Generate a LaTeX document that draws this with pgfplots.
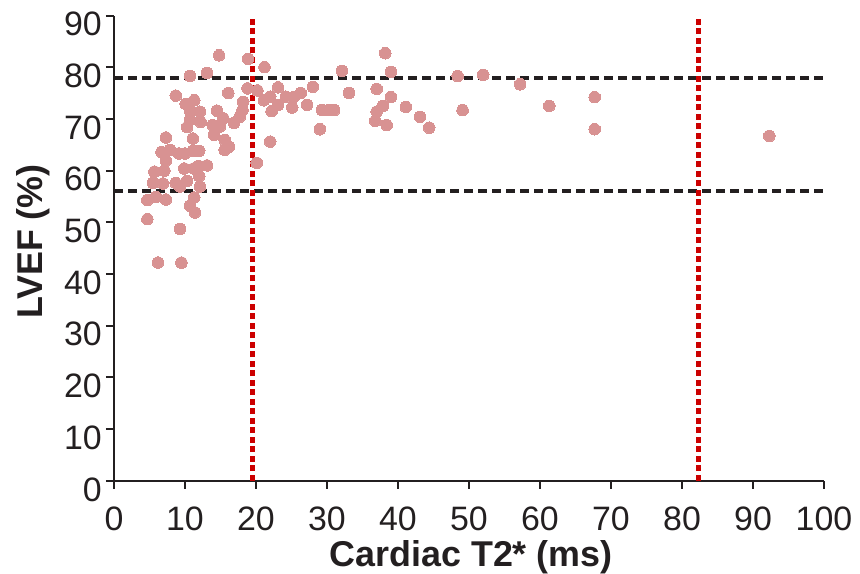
\documentclass[border=0pt]{standalone}
\usepackage{fontspec}
\setmainfont{Liberation Sans}
\usepackage{pgfplots}
\pgfplotsset{compat=1.18}
\definecolor{dotc}{RGB}{216,146,146}
\definecolor{redl}{RGB}{204,0,0}
\definecolor{txt}{RGB}{35,31,32}
\pgfplotstableread{
x y
14.8 82.3
18.9 81.6
21.2 80.0
13.1 78.9
10.7 78.3
8.7 74.5
16.1 75.0
18.8 75.9
20.2 75.5
10.1 72.9
11.3 73.6
18.2 73.3
21.1 73.6
10.7 71.6
12.1 71.4
14.5 71.6
18.1 71.7
10.7 69.8
12.2 69.4
15.4 70.1
17.7 70.4
10.3 68.4
13.9 68.8
14.9 68.5
16.9 69.2
14.1 66.9
11.1 66.2
7.3 66.4
15.6 65.9
16.2 64.6
15.6 64.0
22.0 65.6
6.7 63.6
7.9 64.0
9.1 63.3
10.0 63.3
11.1 63.8
12.0 63.8
7.3 61.9
20.1 61.5
5.7 59.8
7.1 60.0
9.9 60.4
11.2 60.4
11.9 60.9
13.1 61.0
5.5 57.6
6.9 57.5
8.7 57.6
9.3 56.9
10.3 58.0
12.0 58.9
12.1 56.9
4.7 54.3
5.9 54.9
7.3 54.4
11.3 54.8
10.7 53.2
11.4 51.9
4.7 50.6
9.3 48.7
6.2 42.2
9.5 42.2
38.2 82.7
32.1 79.3
39.0 79.1
48.4 78.3
23.1 76.1
28.0 76.2
37.0 75.8
33.1 75.0
26.3 75.0
39.0 74.2
22.0 74.3
24.2 74.3
25.3 74.2
23.1 72.7
22.2 71.5
25.1 72.2
27.2 72.7
29.3 71.7
30.2 71.7
31.0 71.7
29.0 68.0
37.9 72.5
37.0 71.4
41.1 72.3
36.8 69.6
38.4 68.8
43.1 70.4
44.4 68.3
52.0 78.5
57.2 76.7
49.1 71.7
61.3 72.5
67.7 74.2
67.7 68.0
92.3 66.7
}\pts
\begin{document}
\begin{tikzpicture}
\path[use as bounding box] (-114bp,-93.3bp) rectangle (746bp,480.7bp);
\begin{axis}[
  at={(0,0)}, anchor=south west,
  scale only axis, width=710bp, height=465.2bp,
  xmin=0, xmax=100, ymin=0, ymax=90,
  axis x line=bottom, axis y line=left,
  axis line style={-, line width=2.2bp, txt},
  xtick={0,10,...,100}, ytick={0,10,...,90},
  minor tick num=0,
  tick align=outside, major tick length=8bp,
  tick style={line width=2bp, txt},
  /pgf/number format/assume math mode=true,
  xticklabel style={font=\fontsize{34}{40}\selectfont, text=txt, anchor=north, inner sep=0pt, yshift=-18bp},
  yticklabel style={font=\fontsize{34}{40}\selectfont, text=txt, anchor=east, inner sep=0pt, xshift=-4bp, yshift=-8.7bp},
  xlabel={Cardiac T2* (ms)},
  ylabel={LVEF (\%)},
  xlabel style={font=\fontsize{36}{43}\selectfont\bfseries, text=txt, at={(axis description cs:0.503,0)}, anchor=base, yshift=-85.5bp, inner sep=0pt},
  ylabel style={font=\fontsize{36}{43}\selectfont\bfseries, text=txt, at={(axis description cs:-0.1,0.514)}, anchor=base, inner sep=0pt},
  clip=false,
]
\addplot[only marks, color=dotc, mark=*, mark size=5.8bp, mark options={draw=dotc, fill=dotc, line width=0pt}] table[x=x, y=y] {\pts};
\addplot[txt, line width=4bp, dash pattern=on 9bp off 5bp] coordinates {(0,78) (100,78)};
\addplot[txt, line width=4bp, dash pattern=on 9bp off 5bp] coordinates {(0,56) (100,56)};
\addplot[redl, line width=4.5bp, dash pattern=on 6bp off 3.5bp] coordinates {(19.5,0) (19.5,90)};
\addplot[redl, line width=4.5bp, dash pattern=on 6bp off 3.5bp] coordinates {(82.3,0) (82.3,90)};
\end{axis}
\end{tikzpicture}
\end{document}
